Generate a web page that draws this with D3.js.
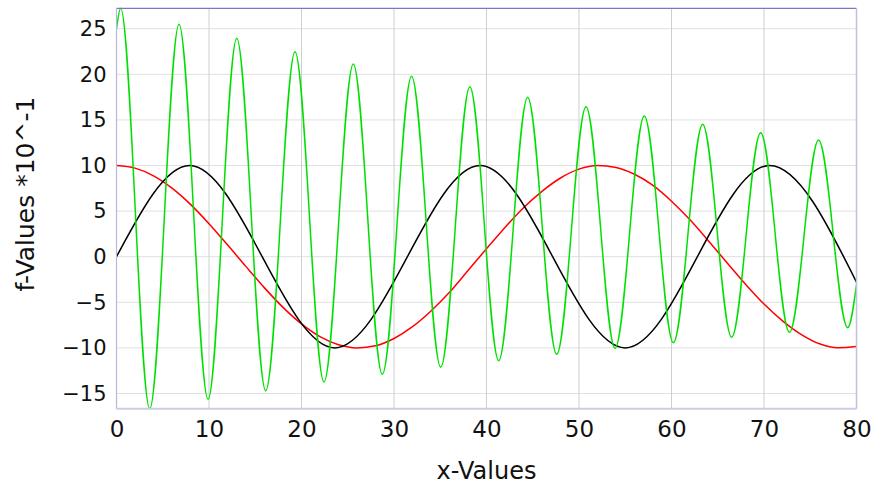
<!DOCTYPE html>
<html>
<head>
<meta charset="utf-8">
<script src="https://cdn.jsdelivr.net/npm/d3@7"></script>
<style>
  html, body { margin: 0; padding: 0; background: #fff; }
  svg { display: block; }
  text { font-family: "DejaVu Sans", sans-serif; fill: #111; }
</style>
</head>
<body>
<svg id="chart" width="872" height="486"></svg>
<script>
// ---- data ----
const xTicks = [0, 10, 20, 30, 40, 50, 60, 70, 80];
const yTicks = [-15, -10, -5, 0, 5, 10, 15, 20, 25];
const xDomain = [0, 80];
const yDomain = [-16.67, 27.24];

// black series: extrema and endpoints
const blackX = [0, 7.9, 23.6, 39.3, 55.0, 70.6, 80];
const blackY = [0, 10, -10, 10, -10, 10, -2.8];

// red series: read every 2 units
const redX = [0, 2, 4, 6, 8, 10, 12, 14, 16, 18, 20, 22, 24, 26, 28, 30, 32, 34, 36, 38, 40,
  42, 44, 46, 48, 50, 52, 54, 56, 58, 60, 62, 64, 66, 68, 70, 72, 74, 76, 78, 80];
const redY = [10, 9.71, 8.87, 7.52, 5.74, 3.62, 1.30, -1.09, -3.42, -5.56, -7.37, -8.77, -9.66, -10.0,
  -9.77, -8.97, -7.68, -5.95, -3.90, -1.52, 0.87, 3.21, 5.37, 7.17, 8.63, 9.60, 9.99, 9.79, 9.04,
  7.81, 6.08, 4.04, 1.73, -0.66, -3.01, -5.19, -7.03, -8.51, -9.55, -9.98, -9.85];

// green series: start, alternating peaks/troughs, end
const greenX = [0, 0.45, 3.59, 6.76, 9.9, 13.0, 16.13, 19.3, 22.43, 25.6, 28.74, 31.9, 35.05,
  38.2, 41.32, 44.45, 47.59, 50.76, 53.9, 57.06, 60.2, 63.37, 66.5, 69.64, 72.75, 75.9, 79.05, 80];
const greenY = [25.0, 27.24, -16.67, 25.5, -15.64, 23.95, -14.69, 22.48, -13.74, 21.13, -12.9, 19.8, -12.13,
  18.64, -11.4, 17.48, -10.7, 16.45, -10.05, 15.43, -9.43, 14.52, -8.84, 13.6, -8.29, 12.8, -7.78, -3.1];

// ---- layout ----
const svg = d3.select("#chart");
const pL = 116.5, pR = 856.5, pT = 8.3, pB = 408.7;

const x = d3.scaleLinear().domain(xDomain).range([pL, pR]);
const y = d3.scaleLinear().domain(yDomain).range([pB, pT]);

// grid
const grid = svg.append("g");
grid.selectAll("line.h").data(yTicks).enter().append("line")
  .attr("x1", pL).attr("x2", pR)
  .attr("y1", d => y(d)).attr("y2", d => y(d))
  .attr("stroke", "#e0e0e0").attr("stroke-width", 1);
grid.selectAll("line.v").data(xTicks.filter(d => d > xDomain[0] && d < xDomain[1])).enter().append("line")
  .attr("y1", pT).attr("y2", pB)
  .attr("x1", d => x(d)).attr("x2", d => x(d))
  .attr("stroke", "#cfcfcf").attr("stroke-width", 1);

// axes (labels only)
const xAxis = d3.axisBottom(x).tickValues(xTicks).tickSize(0).tickPadding(12);
const gx = svg.append("g").attr("transform", `translate(0,${pB})`).call(xAxis);
gx.select(".domain").remove();
gx.selectAll("text").style("font-size", "23px").style("font-family", "DejaVu Sans, sans-serif").attr("fill", "#111");

const yAxis = d3.axisLeft(y).tickValues(yTicks).tickSize(0).tickPadding(10);
const gy = svg.append("g").attr("transform", `translate(${pL},0)`).call(yAxis);
gy.select(".domain").remove();
gy.selectAll("text").style("font-size", "21px").style("font-family", "DejaVu Sans, sans-serif").attr("fill", "#111");

// series
const series = [
  { xs: redX, ys: redY, color: "#ff0000" },
  { xs: blackX, ys: blackY, color: "#000000" },
  { xs: greenX, ys: greenY, color: "#00e000" }
];
const line = d3.line().x(d => x(d[0])).y(d => y(d[1])).curve(d3.curveMonotoneX);
svg.append("clipPath").attr("id", "plotclip").append("rect")
  .attr("x", pL).attr("y", pT - 1).attr("width", pR - pL).attr("height", pB - pT + 2);
svg.append("g").attr("clip-path", "url(#plotclip)")
  .selectAll("path").data(series).enter().append("path")
  .attr("d", s => line(d3.zip(s.xs, s.ys)))
  .attr("fill", "none")
  .attr("stroke", s => s.color)
  .attr("stroke-width", 1.5);

// frame
svg.append("line").attr("x1", pL).attr("x2", pR).attr("y1", pT).attr("y2", pT)
  .attr("stroke", "#7878c8").attr("stroke-width", 1.2);
svg.append("line").attr("x1", pL).attr("x2", pL).attr("y1", pT).attr("y2", pB)
  .attr("stroke", "#b8b8dc").attr("stroke-width", 1.2);
svg.append("line").attr("x1", pR).attr("x2", pR).attr("y1", pT).attr("y2", pB)
  .attr("stroke", "#c0c0dc").attr("stroke-width", 1.5);
svg.append("line").attr("x1", pL).attr("x2", pR).attr("y1", pB).attr("y2", pB)
  .attr("stroke", "#ccccE6").attr("stroke-width", 2);

// axis titles
svg.append("text").attr("x", (pL + pR) / 2).attr("y", 479)
  .attr("text-anchor", "middle").style("font-size", "24px").text("x-Values");
svg.append("text").attr("transform", "translate(34,194) rotate(-90)")
  .attr("text-anchor", "middle").style("font-size", "25px").text("f-Values *10^-1");
</script>
</body>
</html>
